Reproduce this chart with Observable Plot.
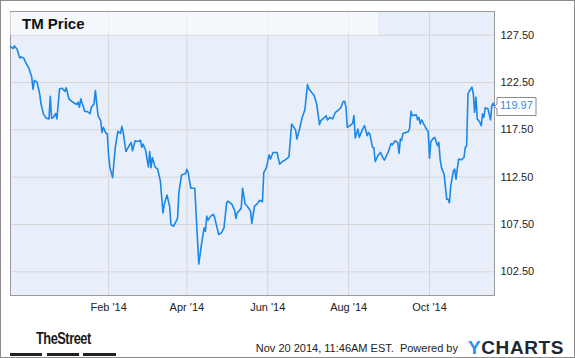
<!DOCTYPE html>
<html><head><meta charset="utf-8">
<script src="https://cdn.jsdelivr.net/npm/d3@7"></script>
<script src="https://cdn.jsdelivr.net/npm/@observablehq/plot@0.6"></script>
<style>
html,body{margin:0;padding:0;background:#fff;}
#wrap{position:relative;width:575px;height:358px;overflow:hidden;font-family:"Liberation Sans",Arial,sans-serif;background:#fff;}
#border{position:absolute;left:0;top:0;width:575px;height:358px;box-sizing:border-box;border:1px solid #8c8c8c;pointer-events:none;}
#chart{position:absolute;left:0;top:0;}
#band{position:absolute;left:10px;top:12px;width:368px;height:23px;background:rgba(255,255,255,0.55);}
#title{position:absolute;left:22px;top:15px;font-weight:bold;font-size:15px;color:#111;line-height:18px;}
#street{position:absolute;left:36px;top:330px;font-family:"Liberation Sans Narrow","Arial Narrow","Liberation Sans",sans-serif;font-weight:bold;font-size:16px;letter-spacing:-0.6px;color:#1a1a1a;transform-origin:0 0;transform:scaleX(0.8);line-height:17px;}
.bar{position:absolute;top:353px;height:3px;background:#222;}
#stamp{position:absolute;right:117px;top:342px;font-size:11px;color:#222;white-space:pre;line-height:13px;}
#logo{position:absolute;right:11px;top:338px;font-size:19px;font-weight:bold;letter-spacing:0.6px;color:#1e2835;line-height:20px;}
#logo span{color:#2f90e8;}
</style>
</head><body>
<div id="wrap">
  <div id="chart"></div>
  <div id="band"></div>
  <div id="title">TM Price</div>
  <div id="street">TheStreet</div>
  <div class="bar" style="left:10px;width:32px"></div>
  <div class="bar" style="left:47px;width:32px"></div>
  <div class="bar" style="left:83px;width:33px"></div>
  <div id="stamp">Nov 20 2014, 11:46AM EST.  Powered by</div>
  <div id="logo"><span>Y</span>CHARTS</div>
  <div id="border"></div>
</div>
<script>
const dates = [
"2013-11-19","2013-11-21","2013-11-22","2013-11-24","2013-11-26","2013-11-27","2013-11-29","2013-11-30",
"2013-12-03","2013-12-05","2013-12-06","2013-12-07","2013-12-09","2013-12-11","2013-12-12","2013-12-14","2013-12-16","2013-12-18","2013-12-19","2013-12-20","2013-12-21","2013-12-23","2013-12-24","2013-12-26","2013-12-28","2013-12-30","2013-12-31",
"2014-01-02","2014-01-05","2014-01-08","2014-01-09","2014-01-10","2014-01-11","2014-01-14","2014-01-16","2014-01-18","2014-01-19","2014-01-21","2014-01-22","2014-01-24","2014-01-26","2014-01-27","2014-01-28","2014-01-30","2014-01-31",
"2014-02-01","2014-02-02","2014-02-04","2014-02-06","2014-02-08","2014-02-10","2014-02-11","2014-02-12","2014-02-14","2014-02-16","2014-02-18","2014-02-19","2014-02-21","2014-02-24","2014-02-25","2014-02-26","2014-02-27",
"2014-03-01","2014-03-02","2014-03-03","2014-03-04","2014-03-05","2014-03-06","2014-03-08","2014-03-10","2014-03-12","2014-03-14","2014-03-15","2014-03-17","2014-03-19","2014-03-20","2014-03-22","2014-03-24","2014-03-25","2014-03-26","2014-03-28","2014-03-31",
"2014-04-01","2014-04-02","2014-04-04","2014-04-07","2014-04-08","2014-04-10","2014-04-12","2014-04-14","2014-04-15","2014-04-16","2014-04-17","2014-04-19","2014-04-21","2014-04-22","2014-04-25","2014-04-27","2014-04-29",
"2014-05-01","2014-05-02","2014-05-05","2014-05-07","2014-05-08","2014-05-09","2014-05-12","2014-05-13","2014-05-15","2014-05-16","2014-05-19","2014-05-20","2014-05-22","2014-05-24","2014-05-26","2014-05-28","2014-05-29","2014-05-31",
"2014-06-02","2014-06-03","2014-06-05","2014-06-08","2014-06-10","2014-06-12","2014-06-14","2014-06-17","2014-06-19","2014-06-22","2014-06-23","2014-06-25","2014-06-27","2014-06-29",
"2014-07-01","2014-07-02","2014-07-04","2014-07-06","2014-07-08","2014-07-10","2014-07-11","2014-07-13","2014-07-14","2014-07-15","2014-07-16","2014-07-18","2014-07-20","2014-07-22","2014-07-24","2014-07-26","2014-07-28","2014-07-29","2014-07-30","2014-07-31",
"2014-08-02","2014-08-04","2014-08-05","2014-08-06","2014-08-08","2014-08-09","2014-08-11","2014-08-13","2014-08-15","2014-08-16","2014-08-17","2014-08-19","2014-08-20","2014-08-21","2014-08-23","2014-08-25","2014-08-27","2014-08-28","2014-08-31",
"2014-09-02","2014-09-03","2014-09-05","2014-09-07","2014-09-08","2014-09-09","2014-09-10","2014-09-11","2014-09-13","2014-09-15","2014-09-16","2014-09-17","2014-09-18","2014-09-21","2014-09-22","2014-09-23","2014-09-24","2014-09-25","2014-09-27","2014-09-29","2014-09-30",
"2014-10-01","2014-10-02","2014-10-04","2014-10-05","2014-10-07","2014-10-08","2014-10-09","2014-10-10","2014-10-12","2014-10-14","2014-10-15","2014-10-16","2014-10-17","2014-10-19","2014-10-20","2014-10-21","2014-10-22","2014-10-23","2014-10-25","2014-10-27","2014-10-28","2014-10-29","2014-10-30","2014-10-31",
"2014-11-02","2014-11-03","2014-11-04","2014-11-05","2014-11-06","2014-11-08","2014-11-09","2014-11-10","2014-11-11","2014-11-12","2014-11-14","2014-11-15","2014-11-16","2014-11-17","2014-11-18","2014-11-19"
];
const prices = [
126.3,126.09,126.36,126.01,125.09,125.2,125.09,124.74,
123.96,123.07,121.77,122.72,122.54,121.31,120.25,119.11,118.72,118.66,121.05,118.72,118.76,119.22,118.66,121.84,121.9,121.55,121.95,
120.78,120.42,120.17,120.42,119.89,120.78,119.43,119.43,119.22,119.89,120.23,121.66,119.0,118.47,117.23,117.76,117.12,117.12,
114.76,113.51,112.45,115.64,117.34,117.12,117.87,117.23,115.21,115.71,116.17,115.29,116.35,116.27,116.42,115.64,116.0,
115.29,114.41,113.59,115.21,113.51,114.58,113.59,113.34,112.1,108.73,109.63,110.61,109.45,107.5,107.32,107.85,108.2,110.86,112.74,112.88,
113.34,112.98,111.33,111.33,108.56,103.32,105.38,107.14,106.79,108.38,107.96,108.38,108.56,108.2,106.44,106.61,107.14,
109.8,109.98,109.63,108.99,108.14,108.73,109.2,111.33,109.63,109.55,108.92,107.61,109.45,109.69,110.05,109.9,112.98,113.51,
114.86,114.41,115.11,115.11,113.87,114.15,114.3,114.65,118.12,117.49,116.53,117.59,118.82,119.61,
122.3,121.84,121.48,121.13,120.17,118.05,118.47,118.72,118.82,119.0,118.55,118.82,118.65,119.35,119.54,119.82,120.52,120.52,119.89,117.76,
117.94,118.19,119.0,116.64,117.59,116.7,117.41,117.94,116.88,117.23,117.06,115.64,115.64,114.15,114.76,115.11,114.51,114.3,115.21,
116.06,115.92,116.35,116.17,115.0,116.53,116.42,117.12,117.23,117.3,117.7,119.46,119.0,119.08,118.55,118.82,118.12,118.55,118.02,117.49,117.34,
114.51,116.27,116.64,116.7,115.82,116.17,114.41,113.51,112.81,110.16,110.16,109.8,111.57,113.16,113.34,112.28,113.45,114.41,114.33,114.58,115.64,115.82,121.31,121.58,
122.01,121.31,119.35,120.95,118.65,118.29,117.94,119.18,118.82,119.82,119.72,119.18,118.55,120.07,120.31,119.97
];
const xTickDates = ["2014-02-01","2014-04-01","2014-06-01","2014-08-01","2014-10-01"];
const yTickValues = [102.5,107.5,112.5,117.5,122.5,127.5];
const xDomain = ["2013-11-19","2014-11-19"];
const yDomain = [100,130];

const rows = dates.map((d,i)=>({date:new Date(d), price:prices[i]}));
const last = rows[rows.length-1];
const xt = xTickDates.map(d=>new Date(d));
const fmt = d3.utcFormat("%b '%y");

const chart = Plot.plot({
  width:575, height:320,
  marginTop:11, marginBottom:25, marginLeft:10, marginRight:81,
  style:{fontFamily:"'Liberation Sans', Arial, sans-serif", fontSize:"11px", color:"#222", background:"transparent", overflow:"visible"},
  x:{type:"utc", domain:xDomain.map(d=>new Date(d)), label:null},
  y:{domain:yDomain, label:null},
  marks:[
    Plot.frame({fill:"#e9effa", stroke:null}),
    Plot.gridX(xt, {stroke:"#d6d6d6", strokeOpacity:1}),
    Plot.gridY(yTickValues, {stroke:"#d6d6d6", strokeOpacity:1}),
    Plot.frame({stroke:"#9a9a9a"}),
    Plot.axisX(xt, {tickFormat:fmt, tickSize:0, tickPadding:8, fontSize:11, label:null}),
    Plot.axisY(yTickValues, {anchor:"right", tickFormat:d=>d.toFixed(2), tickSize:0, tickPadding:6, textAnchor:"start", fontSize:11, label:null}),
    Plot.line(rows, {x:"date", y:"price", stroke:"#1a88e8", strokeWidth:1.6}),
    Plot.tip([last], {x:"date", y:"price", title:d=>d.price.toFixed(2), anchor:"left", pointerSize:5, textPadding:3, fontSize:11, fill:"white", stroke:"#8a8a8a", pathFilter:"none"})
  ]
});
document.getElementById("chart").appendChild(chart);
chart.querySelectorAll('g[aria-label="tip"] text, g[aria-label="tip"] tspan').forEach(t=>t.setAttribute("fill","#2f8de4"));
</script>
</body></html>
